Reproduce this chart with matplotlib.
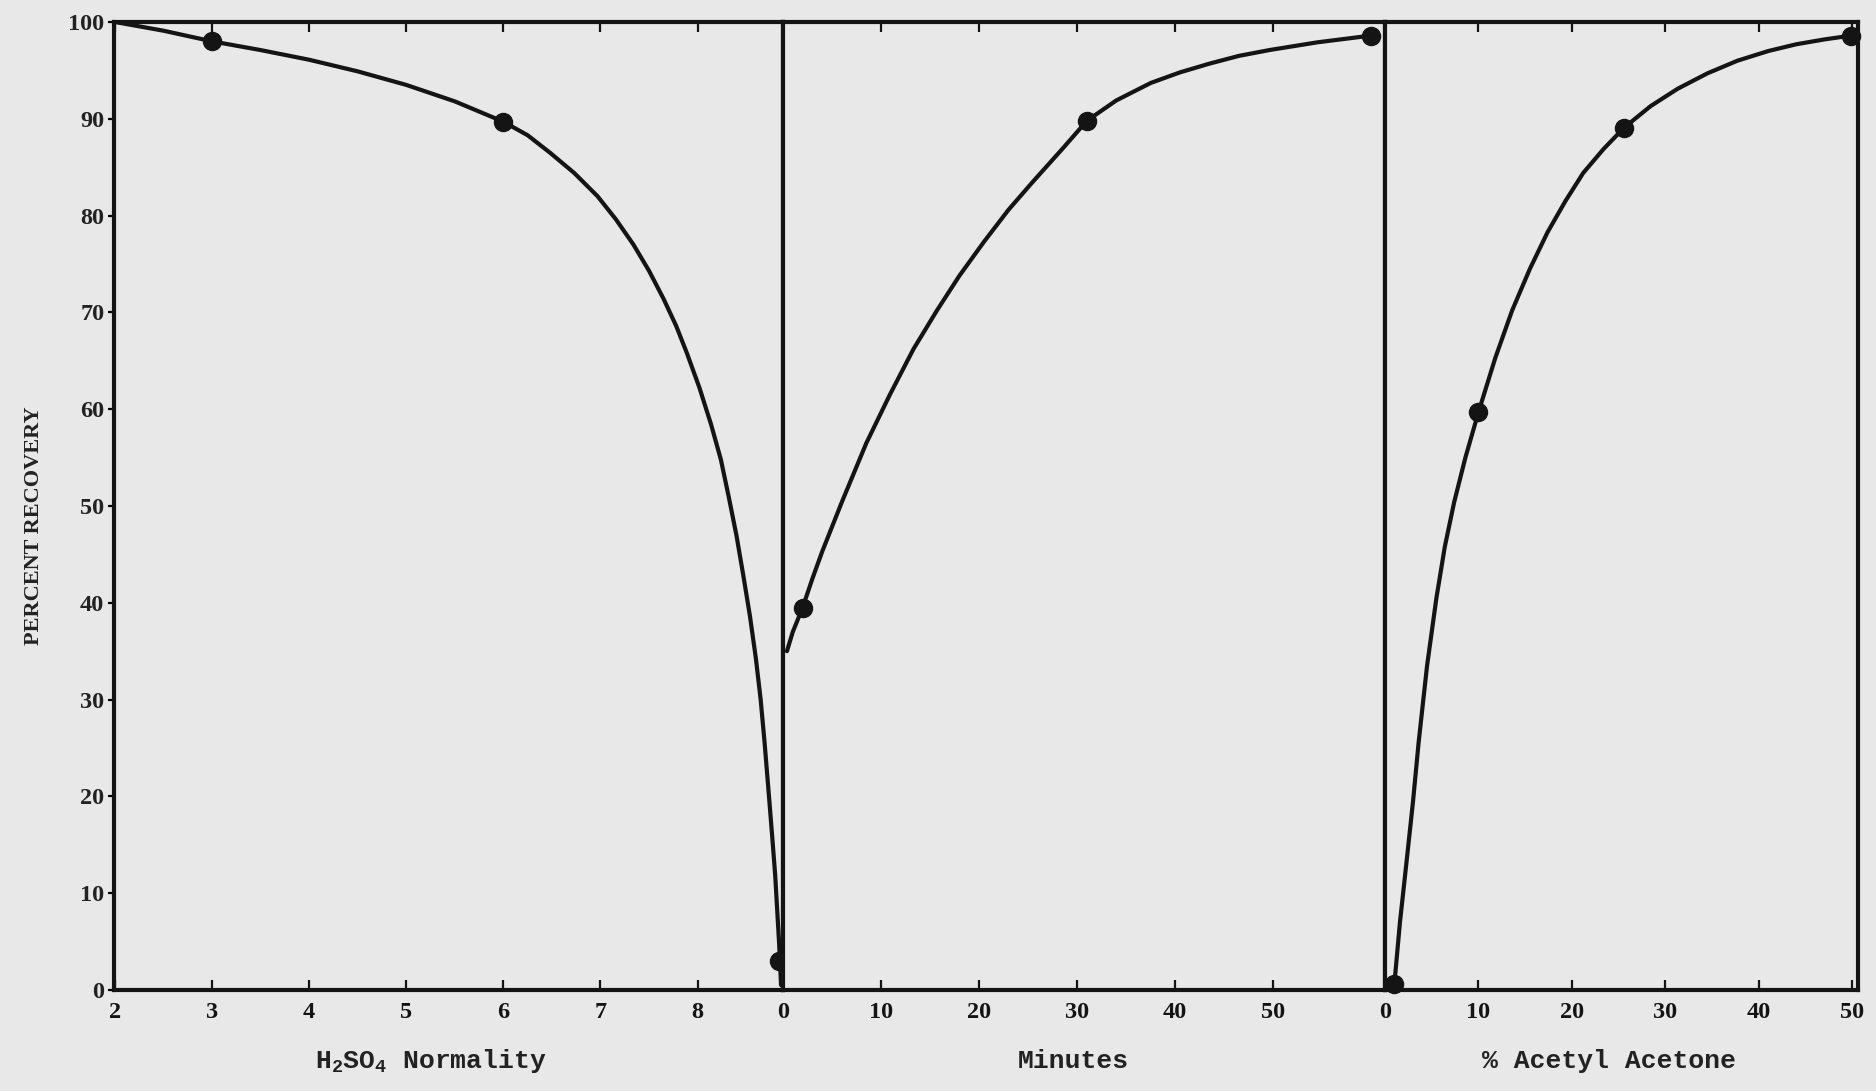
import matplotlib
matplotlib.use("Agg")
import matplotlib.pyplot as plt

# ---------------- data ----------------
y_ticks = [0, 10, 20, 30, 40, 50, 60, 70, 80, 90, 100]

# Panel 1: H2SO4 normality
h2so4_ticks = [2, 3, 4, 5, 6, 7, 8]
h2so4_pts_x = [3.0, 6.0, 8.84]
h2so4_pts_y = [98.0, 89.7, 3.0]
h2so4_curve_x = [2.0, 2.5, 3.0, 3.5, 4.0, 4.5, 5.0, 5.5, 6.0, 6.25, 6.48, 6.73,
                 6.97, 7.16, 7.34, 7.5, 7.65, 7.78, 7.89, 8.02, 8.14, 8.24,
                 8.32, 8.4, 8.47, 8.54, 8.60, 8.65, 8.69, 8.73, 8.77, 8.80,
                 8.82, 8.84, 8.86]
h2so4_curve_y = [100.0, 99.1, 98.0, 97.1, 96.1, 94.9, 93.5, 91.8, 89.7, 88.3,
                 86.5, 84.4, 82.0, 79.6, 77.0, 74.3, 71.4, 68.6, 65.8, 62.2,
                 58.4, 54.8, 51.0, 47.0, 42.9, 38.6, 34.3, 30.0, 25.6, 20.7,
                 15.7, 11.8, 8.3, 4.8, 0.5]

# Panel 2: minutes
min_ticks = [0, 10, 20, 30, 40, 50]
min_pts_x = [2.0, 31.0, 60.0]
min_pts_y = [39.5, 89.8, 98.6]
min_curve_x = [0.4, 1.0, 2.0, 3.0, 4.0, 6.0, 8.5, 10.9, 13.3, 15.7, 18.0, 20.5,
               23.0, 25.4, 28.5, 31.0, 34.0, 37.5, 40.5, 43.5, 46.5, 49.6,
               54.5, 60.0]
min_curve_y = [35.0, 37.0, 39.5, 42.5, 45.3, 50.4, 56.5, 61.5, 66.2, 70.2, 73.8,
               77.3, 80.6, 83.4, 86.9, 89.8, 91.9, 93.7, 94.8, 95.7, 96.5, 97.1,
               97.9, 98.6]

# Panel 3: % acetyl acetone
acac_ticks = [0, 10, 20, 30, 40, 50]
acac_pts_x = [1.0, 10.0, 25.6, 49.9]
acac_pts_y = [0.6, 59.7, 89.1, 98.6]
acac_curve_x = [1.0, 1.6, 2.3, 3.0, 3.6, 4.5, 5.5, 6.4, 7.4, 8.6, 10.0, 11.8,
                13.6, 15.5, 17.4, 19.3, 21.2, 23.4, 25.6, 28.4, 31.3, 34.5,
                37.7, 41.0, 44.0, 47.0, 49.9]
acac_curve_y = [0.6, 7.0, 13.2, 19.5, 25.6, 33.5, 40.5, 45.8, 50.4, 55.0, 59.7,
                65.3, 70.2, 74.5, 78.3, 81.5, 84.4, 86.9, 89.1, 91.3, 93.1,
                94.7, 96.0, 97.0, 97.7, 98.2, 98.6]

# ---------------- figure ----------------
W, H = 1876, 1091
BG = "#e8e8e8"
INK = "#141414"
fig = plt.figure(figsize=(W / 100, H / 100), dpi=100, facecolor=BG)

plt.rcParams["mathtext.fontset"] = "custom"
plt.rcParams["mathtext.rm"] = "Liberation Mono:bold"

ax_bottom, ax_top = 990, 22
panels_px = [(114, 783), (783, 1385), (1385, 1858)]
xlims = [(1.99, 8.88), (0.0, 61.4), (0.0, 50.6)]
ticks = [h2so4_ticks, min_ticks, acac_ticks]
curves = [(h2so4_curve_x, h2so4_curve_y),
          (min_curve_x, min_curve_y),
          (acac_curve_x, acac_curve_y)]
points = [(h2so4_pts_x, h2so4_pts_y),
          (min_pts_x, min_pts_y),
          (acac_pts_x, acac_pts_y)]

tick_font = dict(family="Liberation Serif", size=17.5, weight="bold")
lab_font = dict(family="Liberation Mono", size=19, weight="bold")

for i, (l, r) in enumerate(panels_px):
    ax = fig.add_axes([l / W, 1 - ax_bottom / H, (r - l) / W,
                       (ax_bottom - ax_top) / H])
    ax.set_facecolor(BG)
    ax.set_xlim(*xlims[i])
    ax.set_ylim(0, 100)
    for s in ax.spines.values():
        s.set_linewidth(3.0)
        s.set_color(INK)
    ax.set_xticks(ticks[i])
    ax.set_xticklabels([str(t) for t in ticks[i]], fontdict=tick_font,
                       color="#222222")
    ax.tick_params(axis="x", direction="in", top=True, bottom=True,
                   length=7, width=1.6, pad=9, colors=INK)
    if i == 0:
        ax.set_yticks(y_ticks)
        ax.set_yticklabels([str(t) for t in y_ticks], fontdict=tick_font,
                           color="#222222")
        ax.tick_params(axis="y", direction="out", length=4, width=1.6, pad=3)
    else:
        ax.set_yticks([])
    cx, cy = curves[i]
    ax.plot(cx, cy, color=INK, lw=3.0, solid_capstyle="round",
            solid_joinstyle="round", clip_on=False, zorder=3)
    px, py = points[i]
    ax.plot(px, py, "o", color=INK, ms=13, clip_on=False, zorder=4)

fig.text(34 / W, 1 - 526 / H, "PERCENT RECOVERY", rotation=90,
         ha="center", va="center", family="Liberation Serif", size=16,
         weight="bold", color="#222222")
fig.text(431 / W, 1 - 1061 / H, r"H$_\mathrm{2}$SO$_\mathrm{4}$ Normality",
         ha="center", va="center", color="#222222", **lab_font)
fig.text(1073 / W, 1 - 1061 / H, "Minutes", ha="center", va="center",
         color="#222222", **lab_font)
fig.text(1609 / W, 1 - 1061 / H, "% Acetyl Acetone", ha="center",
         va="center", color="#222222", **lab_font)

fig.savefig("out.png", dpi=100, facecolor=BG)
